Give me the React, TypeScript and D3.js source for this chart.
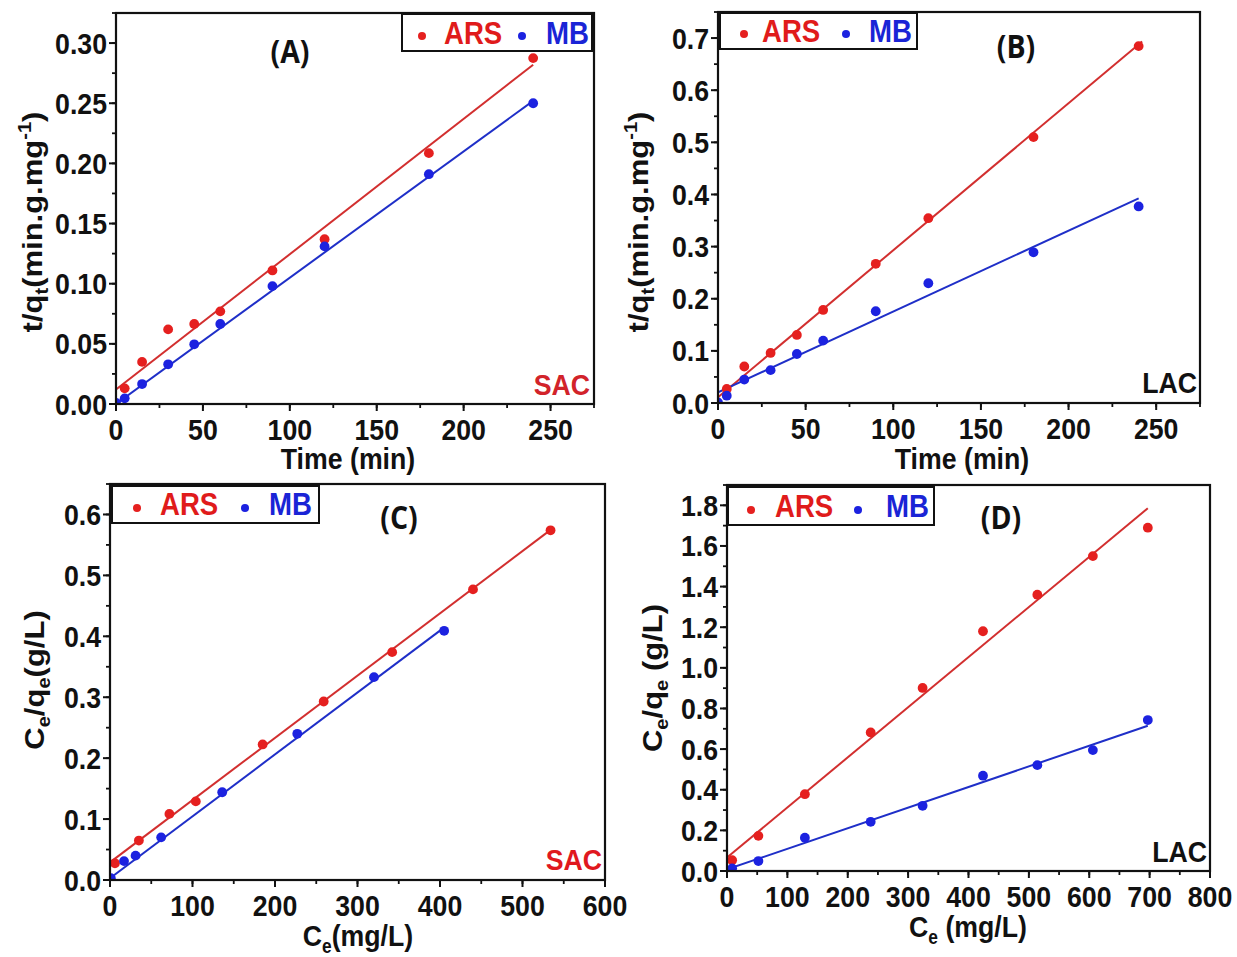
import React from "react";
import * as d3 from "d3";

// ---------------- DATA ----------------
// Panel A (SAC, pseudo-second-order kinetics)
const timeArsA = [5, 15, 30, 45, 60, 90, 120, 180, 240];
const arsA = [0.013, 0.035, 0.062, 0.0665, 0.077, 0.111, 0.137, 0.2085, 0.2875];
const timeMbA = [0, 5, 15, 30, 45, 60, 90, 120, 180, 240];
const mbA = [0.001, 0.0047, 0.0166, 0.033, 0.0496, 0.0665, 0.098, 0.131, 0.191, 0.25];
const fitArsA = [0.012, 0.001125, 0, 240]; // intercept, slope, xStart, xEnd
const fitMbA = [0.0, 0.00105, 0, 240];

// Panel B (LAC)
const timeArsB = [5, 15, 30, 45, 60, 90, 120, 180, 240];
const arsB = [0.027, 0.07, 0.096, 0.1305, 0.1785, 0.267, 0.3545, 0.51, 0.6846];
const timeMbB = [0, 5, 15, 30, 45, 60, 90, 120, 180, 240];
const mbB = [0.001, 0.014, 0.045, 0.063, 0.094, 0.1196, 0.176, 0.2297, 0.289, 0.377];
const fitArsB = [0.011, 0.00282, 0, 242];
const fitMbB = [0.0205, 0.00155, 0, 240];

// Panel C (SAC, Langmuir)
const ceArsC = [6, 35, 72, 104, 185, 259, 342, 440, 534];
const arsC = [0.0274, 0.0647, 0.1085, 0.129, 0.2225, 0.293, 0.374, 0.477, 0.574];
const ceMbC = [1, 17, 31, 62, 136, 227, 320, 405];
const mbC = [0.003, 0.031, 0.04, 0.07, 0.144, 0.24, 0.333, 0.409];
const fitArsC = [0.029, 0.001022, 0, 534];
const fitMbC = [0.003, 0.001016, 0, 402];

// Panel D (LAC, Langmuir)
const ceArsD = [8.5, 52, 129, 238, 324, 424, 514, 606, 697];
const arsD = [0.053, 0.173, 0.378, 0.682, 0.901, 1.18, 1.36, 1.55, 1.69];
const ceMbD = [8.5, 52, 129, 238, 324, 424, 514, 606, 697];
const mbD = [0.013, 0.049, 0.164, 0.242, 0.321, 0.469, 0.521, 0.595, 0.743];
const fitArsD = [0.066, 0.002467, 0, 697];
const fitMbD = [0.008, 0.001014, 0, 697];

// axis ticks
const timeTicks = [0, 50, 100, 150, 200, 250];
const yTicksA = [0, 0.05, 0.1, 0.15, 0.2, 0.25, 0.3];
const yTicksB = [0, 0.1, 0.2, 0.3, 0.4, 0.5, 0.6, 0.7];
const xTicksC = [0, 100, 200, 300, 400, 500, 600];
const yTicksC = [0, 0.1, 0.2, 0.3, 0.4, 0.5, 0.6];
const xTicksD = [0, 100, 200, 300, 400, 500, 600, 700, 800];
const yTicksD = [0, 0.2, 0.4, 0.6, 0.8, 1.0, 1.2, 1.4, 1.6, 1.8];

const seriesNames = ["ARS", "MB"];

// ---------------- STYLE ----------------
const RED_PT = "#e5201f";
const RED_LINE = "#d22f2f";
const BLUE_PT = "#1c22e0";
const BLUE_LINE = "#1f2fc8";
const RED_TXT = "#e01b1b";
const BLUE_TXT = "#1a24d6";
const SX = 0.89;
const FONT = "'Liberation Sans', Arial, sans-serif";
const LABEL_FONT = "'Open Sans', 'Liberation Sans', sans-serif";

type TProps = {
  x: number;
  y: number;
  size: number;
  anchor?: string;
  fill?: string;
  rotate?: boolean;
  family?: string;
  children: React.ReactNode;
};
const T = ({ x, y, size, anchor = "start", fill = "#111", rotate = false, family = FONT, children }: TProps) => (
  <text
    transform={rotate ? `translate(${x},${y}) rotate(-90) scale(1,${SX})` : `translate(${x},${y}) scale(${SX},1)`}
    fontFamily={family}
    fontWeight="bold"
    fontSize={size}
    textAnchor={anchor}
    fill={fill}
  >
    {children}
  </text>
);

type PanelProps = {
  box: { left: number; right: number; top: number; bottom: number };
  xDomain: number[];
  yDomain: number[];
  xTicks: number[];
  yTicks: number[];
  xMinorStep: number;
  yMinorStep: number;
  yFmt: (v: number) => string;
  ars: { x: number[]; y: number[]; fit: number[] };
  mb: { x: number[]; y: number[]; fit: number[] };
  legend: { x0: number; x1: number; y0: number; y1: number; d1: number; t1: number; d2: number; t2: number; base: number; dy: number };
  label: { text: string; x: number; y: number };
  corner: { text: string; x: number; y: number; fill: string };
  xTitle: React.ReactNode;
  xTitlePos: number[];
  yTitle: React.ReactNode;
  yTitlePos: number[];
};

const Panel = (p: PanelProps) => {
  const { box } = p;
  const x = d3.scaleLinear().domain(p.xDomain).range([box.left, box.right]);
  const y = d3.scaleLinear().domain(p.yDomain).range([box.bottom, box.top]);
  const fitPath = (f: number[]) => {
    const gen = d3
      .line<number>()
      .x((v) => x(v))
      .y((v) => y(f[0] + f[1] * v));
    return gen([f[2], f[3]]) || "";
  };
  const xMinor = d3.range(p.xDomain[0], p.xDomain[1] + 1e-9, p.xMinorStep);
  const yMinor = d3.range(p.yDomain[0], p.yDomain[1] + 1e-9, p.yMinorStep);
  const clipId = `clip-${p.label.text.replace(/[()]/g, "")}`;
  return (
    <g>
      <defs>
        <clipPath id={clipId}>
          <rect x={box.left} y={box.top} width={box.right - box.left} height={box.bottom - box.top} />
        </clipPath>
      </defs>
      {/* minor ticks */}
      {xMinor.map((v, i) => (
        <line key={"xm" + i} x1={x(v)} x2={x(v)} y1={box.bottom} y2={box.bottom + 4} stroke="#111" strokeWidth={1.8} />
      ))}
      {yMinor.map((v, i) => (
        <line key={"ym" + i} x1={box.left} x2={box.left - 4} y1={y(v)} y2={y(v)} stroke="#111" strokeWidth={1.8} />
      ))}
      {/* major ticks */}
      {p.xTicks.map((v, i) => (
        <g key={"xt" + i}>
          <line x1={x(v)} x2={x(v)} y1={box.bottom} y2={box.bottom + 7} stroke="#111" strokeWidth={2} />
          <T x={x(v)} y={box.bottom + 36} size={30} anchor="middle">
            {String(v)}
          </T>
        </g>
      ))}
      {p.yTicks.map((v, i) => (
        <g key={"yt" + i}>
          <line x1={box.left} x2={box.left - 7} y1={y(v)} y2={y(v)} stroke="#111" strokeWidth={2} />
          <T x={box.left - 9} y={y(v) + 10.5} size={30} anchor="end">
            {p.yFmt(v)}
          </T>
        </g>
      ))}
      {/* fits and points */}
      <g clipPath={`url(#${clipId})`}>
        <path d={fitPath(p.ars.fit)} stroke={RED_LINE} strokeWidth={2} fill="none" />
        <path d={fitPath(p.mb.fit)} stroke={BLUE_LINE} strokeWidth={2} fill="none" />
        {p.ars.x.map((v, i) => (
          <circle key={"a" + i} cx={x(v)} cy={y(p.ars.y[i])} r={4.9} fill={RED_PT} />
        ))}
        {p.mb.x.map((v, i) => (
          <circle key={"m" + i} cx={x(v)} cy={y(p.mb.y[i])} r={4.9} fill={BLUE_PT} />
        ))}
      </g>
      {/* frame */}
      <rect x={box.left} y={box.top} width={box.right - box.left} height={box.bottom - box.top} fill="none" stroke="#111" strokeWidth={2.2} />
      {/* legend */}
      <rect
        x={p.legend.x0}
        y={p.legend.y0}
        width={p.legend.x1 - p.legend.x0}
        height={p.legend.y1 - p.legend.y0}
        fill="#fff"
        stroke="#111"
        strokeWidth={2}
      />
      <circle cx={p.legend.d1} cy={p.legend.dy} r={4} fill={RED_PT} />
      <T x={p.legend.t1} y={p.legend.base} size={31} fill={RED_TXT}>
        {seriesNames[0]}
      </T>
      <circle cx={p.legend.d2} cy={p.legend.dy} r={4} fill={BLUE_PT} />
      <T x={p.legend.t2} y={p.legend.base} size={31} fill={BLUE_TXT}>
        {seriesNames[1]}
      </T>
      {/* panel label */}
      <T x={p.label.x} y={p.label.y} size={32} anchor="middle" family={LABEL_FONT} fill="#111">
        {p.label.text}
      </T>
      <T x={p.corner.x} y={p.corner.y} size={30} anchor="end" fill={p.corner.fill}>
        {p.corner.text}
      </T>
      {/* axis titles */}
      <T x={p.xTitlePos[0]} y={p.xTitlePos[1]} size={30} anchor="middle">
        {p.xTitle}
      </T>
      <T x={p.yTitlePos[0]} y={p.yTitlePos[1]} size={31} anchor="middle" rotate>
        {p.yTitle}
      </T>
    </g>
  );
};

const fmt2 = (v: number) => v.toFixed(2);
const fmt1 = (v: number) => v.toFixed(1);

const tqTitle = (
  <>
    t/q
    <tspan dy={7} fontSize="0.65em">t</tspan>
    <tspan dy={-7}>(min.g.mg</tspan>
    <tspan dy={-12} fontSize="0.65em">-1</tspan>
    <tspan dy={12}>)</tspan>
  </>
);
const ceqeTitle = (sp: string) => (
  <>
    C<tspan dy={7} fontSize="0.65em">e</tspan>
    <tspan dy={-7}>/q</tspan>
    <tspan dy={7} fontSize="0.65em">e</tspan>
    <tspan dy={-7}>{sp}(g/L)</tspan>
  </>
);
const ceTitle = (sp: string) => (
  <>
    C<tspan dy={7} fontSize="0.65em">e</tspan>
    <tspan dy={-7}>{sp}(mg/L)</tspan>
  </>
);

export default function App() {
  return (
    <svg width={1237} height={957} style={{ position: "absolute", left: 0, top: 0, background: "#fff" }}>
      <rect width={1237} height={957} fill="#fff" />
      <Panel
        box={{ left: 116, right: 594, top: 13, bottom: 404 }}
        xDomain={[0, 275]}
        yDomain={[0, 0.325]}
        xTicks={timeTicks}
        yTicks={yTicksA}
        xMinorStep={25}
        yMinorStep={0.025}
        yFmt={fmt2}
        ars={{ x: timeArsA, y: arsA, fit: fitArsA }}
        mb={{ x: timeMbA, y: mbA, fit: fitMbA }}
        legend={{ x0: 402, x1: 592, y0: 14, y1: 51, d1: 422, t1: 444, d2: 522, t2: 546, base: 44, dy: 36 }}
        label={{ text: "(A)", x: 290, y: 63 }}
        corner={{ text: "SAC", x: 590, y: 395, fill: "#d2232a" }}
        xTitle={"Time (min)"}
        xTitlePos={[348, 469]}
        yTitle={tqTitle}
        yTitlePos={[42, 222]}
      />
      <Panel
        box={{ left: 718, right: 1200, top: 12, bottom: 403 }}
        xDomain={[0, 275]}
        yDomain={[0, 0.75]}
        xTicks={timeTicks}
        yTicks={yTicksB}
        xMinorStep={25}
        yMinorStep={0.05}
        yFmt={fmt1}
        ars={{ x: timeArsB, y: arsB, fit: fitArsB }}
        mb={{ x: timeMbB, y: mbB, fit: fitMbB }}
        legend={{ x0: 720, x1: 917, y0: 13, y1: 49, d1: 744, t1: 762, d2: 846, t2: 869, base: 42, dy: 34 }}
        label={{ text: "(B)", x: 1016, y: 58 }}
        corner={{ text: "LAC", x: 1197, y: 393, fill: "#111" }}
        xTitle={"Time (min)"}
        xTitlePos={[962, 469]}
        yTitle={tqTitle}
        yTitlePos={[648, 222]}
      />
      <Panel
        box={{ left: 110, right: 605, top: 484, bottom: 880 }}
        xDomain={[0, 600]}
        yDomain={[0, 0.65]}
        xTicks={xTicksC}
        yTicks={yTicksC}
        xMinorStep={50}
        yMinorStep={0.05}
        yFmt={fmt1}
        ars={{ x: ceArsC, y: arsC, fit: fitArsC }}
        mb={{ x: ceMbC, y: mbC, fit: fitMbC }}
        legend={{ x0: 112, x1: 319, y0: 486, y1: 523, d1: 137, t1: 160, d2: 245, t2: 269, base: 515, dy: 508 }}
        label={{ text: "(C)", x: 399, y: 529 }}
        corner={{ text: "SAC", x: 602, y: 870, fill: "#e0181e" }}
        xTitle={ceTitle("")}
        xTitlePos={[358, 946]}
        yTitle={ceqeTitle("")}
        yTitlePos={[44, 680]}
      />
      <Panel
        box={{ left: 727, right: 1210, top: 485, bottom: 871 }}
        xDomain={[0, 800]}
        yDomain={[0, 1.9]}
        xTicks={xTicksD}
        yTicks={yTicksD}
        xMinorStep={50}
        yMinorStep={0.1}
        yFmt={fmt1}
        ars={{ x: ceArsD, y: arsD, fit: fitArsD }}
        mb={{ x: ceMbD, y: mbD, fit: fitMbD }}
        legend={{ x0: 728, x1: 934, y0: 487, y1: 525, d1: 751, t1: 775, d2: 858, t2: 886, base: 517, dy: 510 }}
        label={{ text: "(D)", x: 1001, y: 529 }}
        corner={{ text: "LAC", x: 1207, y: 862, fill: "#111" }}
        xTitle={ceTitle(" ")}
        xTitlePos={[968, 937]}
        yTitle={ceqeTitle(" ")}
        yTitlePos={[662, 678]}
      />
    </svg>
  );
}
